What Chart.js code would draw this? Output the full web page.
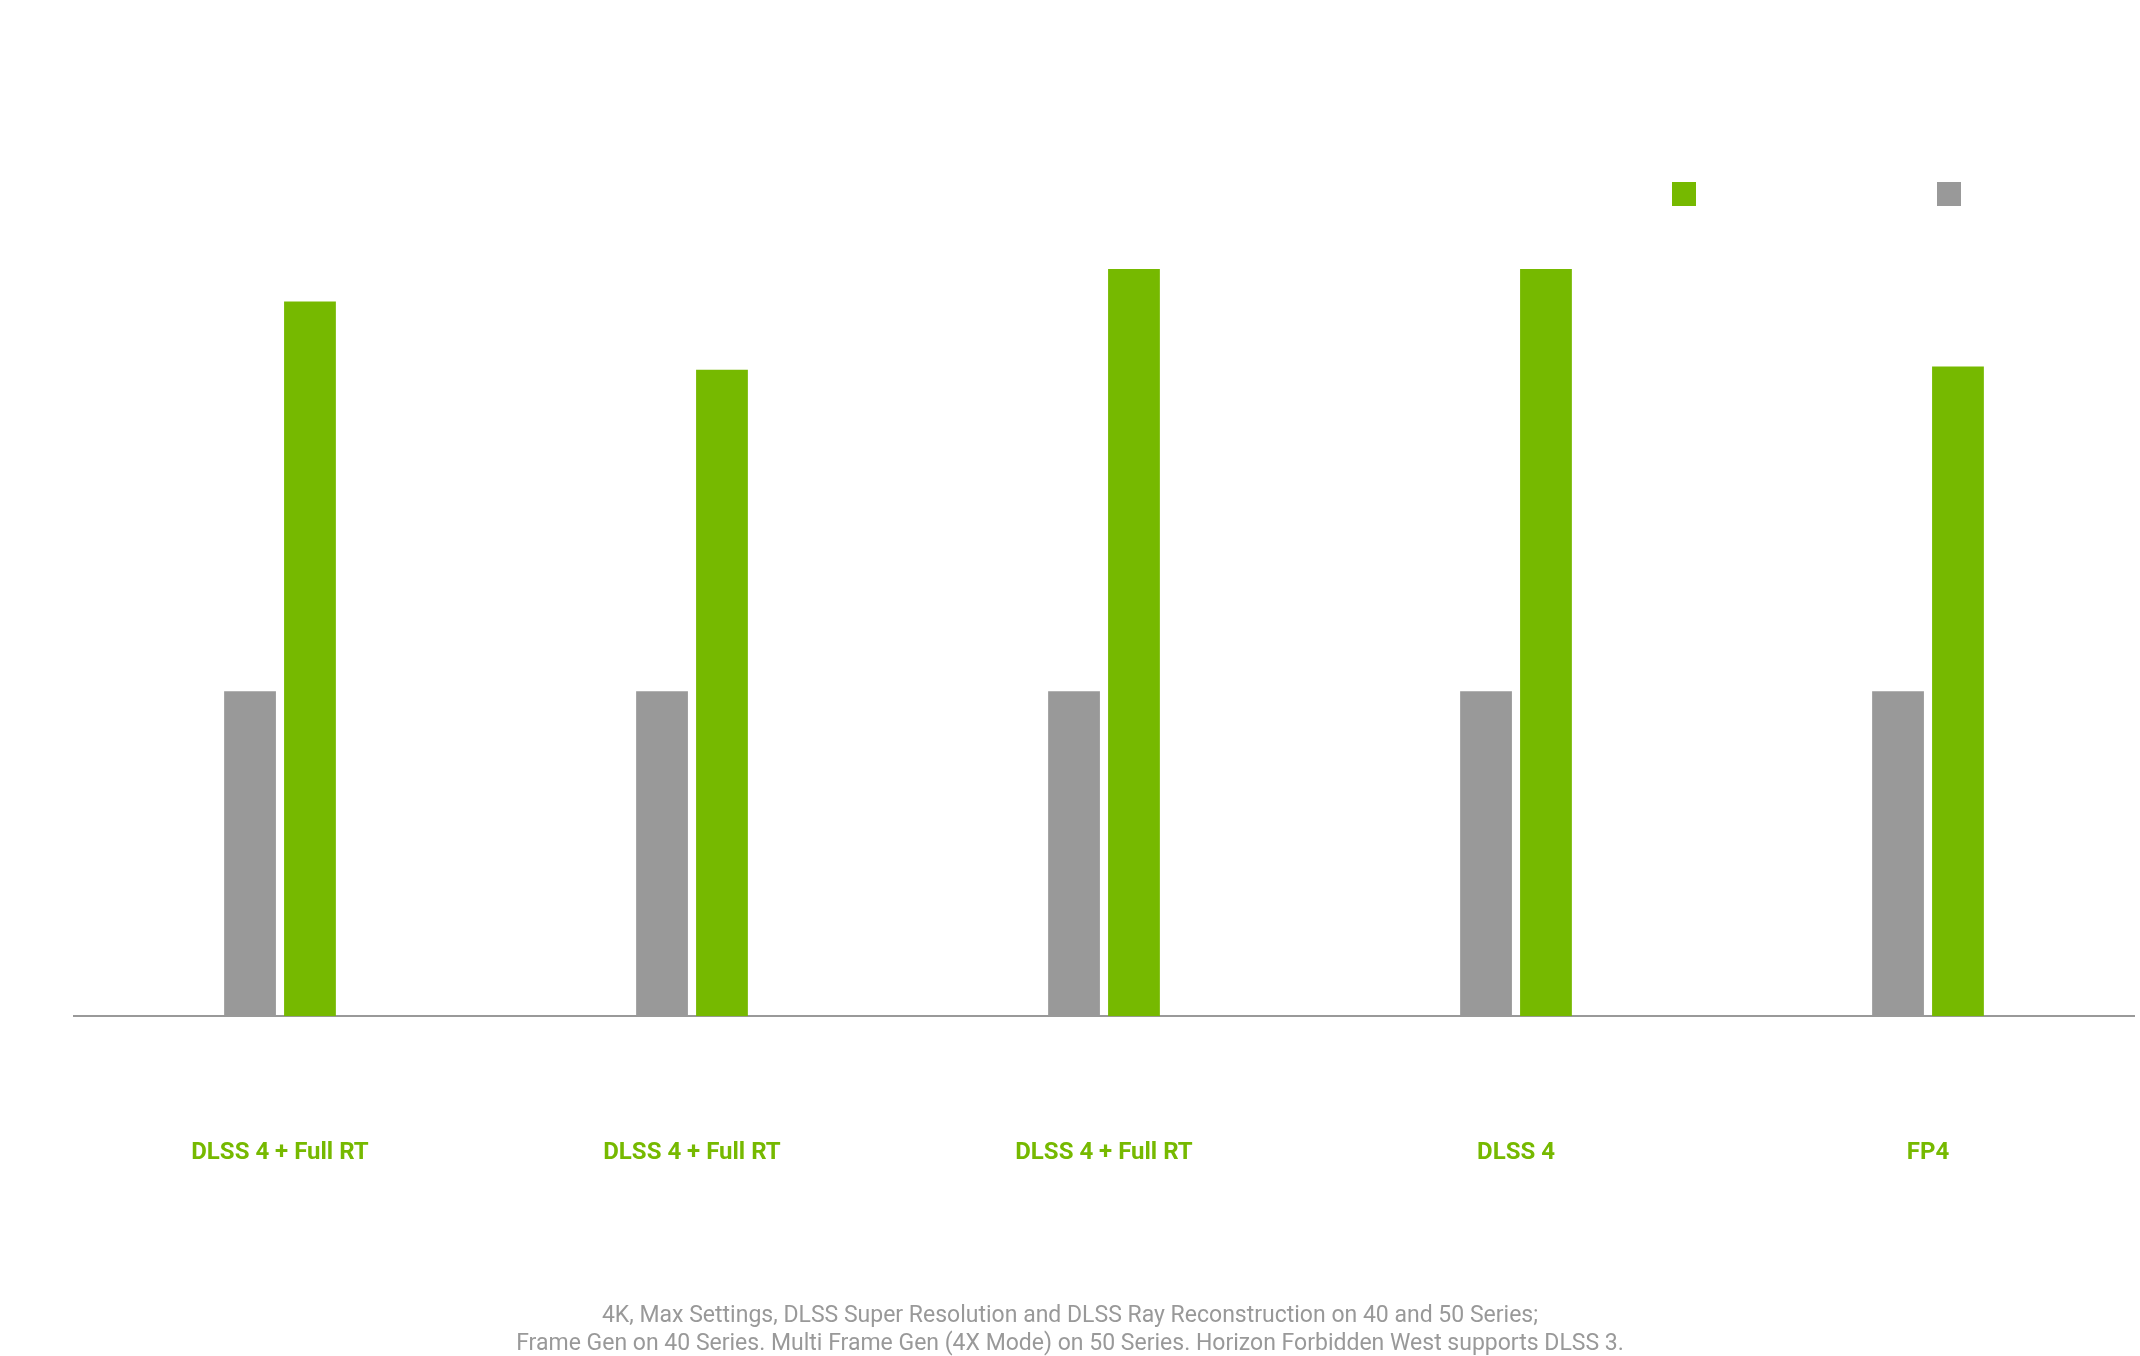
<!DOCTYPE html>
<html><head><meta charset="utf-8">
<script src="https://cdn.jsdelivr.net/npm/chart.js@4"></script>
<style>html,body{margin:0;padding:0;background:#fff}#wrap{width:2140px;height:1356px}</style>
</head><body><div id="wrap"><canvas id="c"></canvas></div>
<script>
const categories = ["DLSS 4 + Full RT","DLSS 4 + Full RT","DLSS 4 + Full RT","DLSS 4","FP4"];
const rtx4090 = [1.0,1.0,1.0,1.0,1.0];
const rtx5090 = [2.2,1.99,2.3,2.3,2.0];
const seriesNames = ["RTX 4090","RTX 5090"];
const footnote = ["4K, Max Settings, DLSS Super Resolution and DLSS Ray Reconstruction on 40 and 50 Series;",
 "Frame Gen on 40 Series. Multi Frame Gen (4X Mode) on 50 Series. Horizon Forbidden West supports DLSS 3."];
const FONT = "'Liberation Sans Narrow','Roboto','DejaVu Sans Condensed',sans-serif";
const extras = {
  id:'extras',
  afterDraw(chart){
    const ctx = chart.ctx;
    ctx.save();
    ctx.fillStyle='#999'; ctx.font='23px '+FONT; ctx.textAlign='center'; ctx.textBaseline='middle';
    ctx.fillText(footnote[0],1070,1316);
    ctx.fillText(footnote[1],1070,1344);
    const items=[{c:'#76b900',x:1672,t:seriesNames[1]},{c:'#999999',x:1937,t:seriesNames[0]}];
    items.forEach(it=>{ctx.fillStyle=it.c;ctx.fillRect(it.x,182,24,24);
      ctx.fillStyle='#ffffff';ctx.textAlign='left';ctx.font='24px '+FONT;ctx.fillText(it.t,it.x+36,194);});
    ctx.restore();
  }
};
new Chart(document.getElementById('c'),{
  type:'bar',
  data:{labels:categories,datasets:[
    {label:seriesNames[0],data:rtx4090,backgroundColor:'#999999'},
    {label:seriesNames[1],data:rtx5090,backgroundColor:'#76b900'}
  ]},
  options:{
    responsive:true,maintainAspectRatio:false,animation:false,
    layout:{padding:{top:204,left:74,right:6,bottom:67}},
    datasets:{bar:{categoryPercentage:0.291,barPercentage:0.864}},
    plugins:{legend:{display:false},tooltip:{enabled:false}},
    scales:{
      x:{grid:{display:false,drawTicks:false},border:{color:'#999',width:2},
         ticks:{color:'#76b900',padding:122,font:{family:FONT,size:24,weight:'bold'}}},
      y:{display:false,min:0,max:2.5}
    }
  },
  plugins:[extras]
});
</script></body></html>
